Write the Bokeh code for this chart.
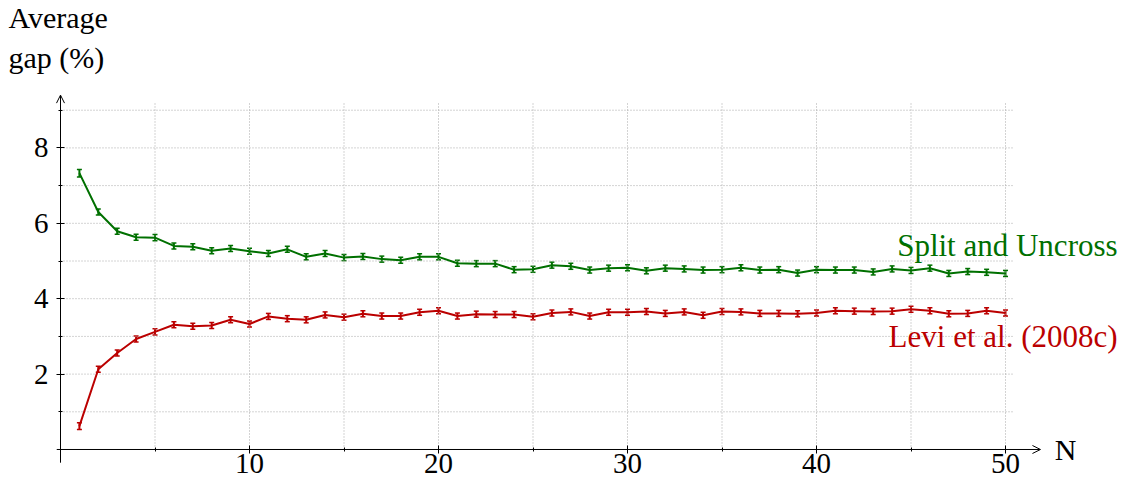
from bokeh.plotting import figure
from bokeh.models import (ColumnDataSource, Whisker, TeeHead, Label, Arrow,
                          OpenHead, FixedTicker)
from bokeh.embed import file_html
from bokeh.resources import INLINE

# ---------------- data ----------------
n_values = list(range(1, 51))

split_uncross = [7.33, 6.30, 5.79, 5.63, 5.62, 5.40, 5.38, 5.27, 5.33, 5.26,
                 5.20, 5.31, 5.11, 5.20, 5.09, 5.12, 5.05, 5.02, 5.11, 5.11,
                 4.94, 4.93, 4.93, 4.77, 4.78, 4.89, 4.86, 4.76, 4.81, 4.82,
                 4.74, 4.81, 4.79, 4.76, 4.77, 4.82, 4.76, 4.77, 4.68, 4.77,
                 4.76, 4.76, 4.71, 4.79, 4.75, 4.81, 4.67, 4.72, 4.70, 4.67]
split_err = [0.10, 0.08, 0.08, 0.08, 0.08, 0.08, 0.08, 0.08, 0.08, 0.08,
             0.08, 0.08, 0.08, 0.08, 0.08, 0.08, 0.08, 0.08, 0.08, 0.08,
             0.08, 0.08, 0.08, 0.08, 0.08, 0.08, 0.08, 0.08, 0.08, 0.08,
             0.08, 0.08, 0.08, 0.08, 0.08, 0.08, 0.08, 0.08, 0.08, 0.08,
             0.08, 0.08, 0.08, 0.08, 0.08, 0.08, 0.08, 0.08, 0.08, 0.08]

levi = [0.62, 2.13, 2.56, 2.93, 3.12, 3.31, 3.27, 3.29, 3.44, 3.33,
        3.53, 3.47, 3.44, 3.57, 3.51, 3.60, 3.54, 3.54, 3.64, 3.68,
        3.54, 3.59, 3.58, 3.58, 3.52, 3.62, 3.65, 3.54, 3.64, 3.64,
        3.66, 3.61, 3.65, 3.56, 3.66, 3.65, 3.61, 3.61, 3.60, 3.62,
        3.68, 3.67, 3.66, 3.67, 3.72, 3.68, 3.60, 3.61, 3.68, 3.62]
levi_err = [0.09, 0.08, 0.08, 0.08, 0.08, 0.08, 0.08, 0.08, 0.08, 0.08,
            0.08, 0.08, 0.08, 0.08, 0.08, 0.08, 0.08, 0.08, 0.08, 0.08,
            0.08, 0.08, 0.08, 0.08, 0.08, 0.08, 0.08, 0.08, 0.08, 0.08,
            0.08, 0.08, 0.08, 0.08, 0.08, 0.08, 0.08, 0.08, 0.08, 0.08,
            0.08, 0.08, 0.08, 0.08, 0.08, 0.08, 0.08, 0.08, 0.08, 0.08]

x_ticks = [10, 20, 30, 40, 50]
x_minor = [5, 15, 25, 35, 45]
y_ticks = [2, 4, 6, 8]
y_minor = [1, 3, 5, 7, 9]

series_names = ["Split and Uncross", "Levi et al. (2008c)"]
y_title = ["Average", "gap (%)"]
x_title = "N"

# ---------------- styling ----------------
GREEN = "#007000"
RED = "#bb0000"
FONT = "Liberation Serif"
GRID = "#a8a8a8"

GRID_X_END = 50.42   # extent of horizontal grid lines
GRID_Y_END = 9.18    # extent of vertical grid lines

p = figure(width=1125, height=484, x_range=(-3.1746, 56.349), y_range=(-0.9284, 11.910),
           output_backend="svg", toolbar_location=None, title=None,
           min_border_left=0, min_border_right=0, min_border_top=0,
           min_border_bottom=0)
p.outline_line_color = None
p.background_fill_color = "white"
p.border_fill_color = "white"
p.xgrid.visible = False
p.ygrid.visible = False

for ax, ticks, minor in ((p.xaxis[0], x_ticks, x_minor), (p.yaxis[0], y_ticks, y_minor)):
    ax.ticker = FixedTicker(ticks=ticks, minor_ticks=minor)
    ax.fixed_location = 0
    ax.axis_line_color = None
    ax.major_tick_in = 4
    ax.major_tick_out = 4
    ax.minor_tick_in = 2
    ax.minor_tick_out = 2
    ax.major_tick_line_color = "black"
    ax.minor_tick_line_color = "black"
    ax.major_label_text_font = FONT
    ax.major_label_text_font_size = "29px"
    ax.major_label_text_color = "black"
p.xaxis.major_label_standoff = 1
p.yaxis.major_label_standoff = 8

# dotted grid lines, limited in extent like the reference
gx = x_minor + x_ticks
gy = y_minor + y_ticks
p.segment(x0=gx, y0=[0] * len(gx), x1=gx, y1=[GRID_Y_END] * len(gx),
          line_color=GRID, line_dash="1 2", line_width=1)
p.segment(x0=[0] * len(gy), y0=gy, x1=[GRID_X_END] * len(gy), y1=gy,
          line_color=GRID, line_dash="1 2", line_width=1)

# axis arrows
p.add_layout(Arrow(x_start=-0.2, y_start=0, x_end=51.85, y_end=0,
                   line_color="black", line_width=1,
                   end=OpenHead(size=8, line_color="black", line_width=1)))
p.add_layout(Arrow(x_start=0, y_start=-0.35, x_end=0, y_end=9.4,
                   line_color="black", line_width=1,
                   end=OpenHead(size=8, line_color="black", line_width=1)))

# series
for vals, errs, color in ((split_uncross, split_err, GREEN), (levi, levi_err, RED)):
    src = ColumnDataSource(dict(
        x=n_values, y=vals,
        upper=[v + e for v, e in zip(vals, errs)],
        lower=[v - e for v, e in zip(vals, errs)]))
    p.line("x", "y", source=src, line_color=color, line_width=2)
    p.add_layout(Whisker(base="x", upper="upper", lower="lower", source=src,
                         line_color=color, line_width=2,
                         upper_head=TeeHead(size=5, line_color=color, line_width=1.5),
                         lower_head=TeeHead(size=5, line_color=color, line_width=1.5)))

# texts
p.add_layout(Label(x=-2.75, y=11.45, text=y_title[0], text_font=FONT,
                   text_font_size="30px", text_align="left",
                   text_baseline="alphabetic", text_color="black"))
p.add_layout(Label(x=-2.75, y=10.41, text=y_title[1], text_font=FONT,
                   text_font_size="30px", text_align="left",
                   text_baseline="alphabetic", text_color="black"))
p.add_layout(Label(x=52.6, y=0.01, text=x_title, text_font=FONT,
                   text_font_size="30px", text_align="left",
                   text_baseline="alphabetic", text_color="black"))
p.add_layout(Label(x=55.93, y=5.40, text=series_names[0], text_font=FONT,
                   text_font_size="31px", text_align="right",
                   text_baseline="alphabetic", text_color=GREEN))
p.add_layout(Label(x=55.93, y=3.01, text=series_names[1], text_font=FONT,
                   text_font_size="31px", text_align="right",
                   text_baseline="alphabetic", text_color=RED))

open("out.html", "w").write(file_html(p, INLINE))
